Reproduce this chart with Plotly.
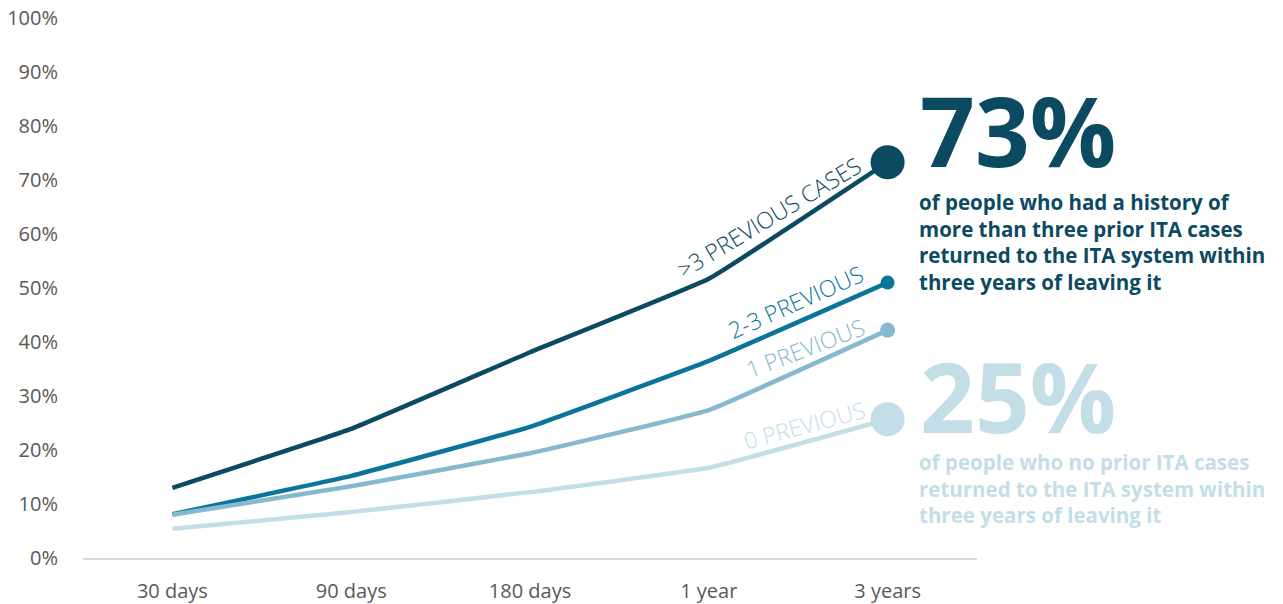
import plotly.graph_objects as go

categories = ["30 days", "90 days", "180 days", "1 year", "3 years"]
series_names = [">3 PREVIOUS CASES", "2-3 PREVIOUS", "1 PREVIOUS", "0 PREVIOUS"]
gt3_prev = [0.130, 0.239, 0.381, 0.517, 0.733]
prev_2_3 = [0.081, 0.152, 0.243, 0.365, 0.510]
prev_1 = [0.080, 0.133, 0.194, 0.274, 0.422]
prev_0 = [0.054, 0.085, 0.122, 0.167, 0.257]
y_ticks = [i / 10 for i in range(11)]
y_tick_labels = [f"{i*10}%" for i in range(11)]

colors = ["#0b4a60", "#0a7599", "#86b9cf", "#c3dee7"]
end_sizes = [34, 14, 15, 34]
all_series = [gt3_prev, prev_2_3, prev_1, prev_0]

W, H = 1283, 604
L, R, T, B = 83, 977, 18, 558

def px(x):
    return (x - L) / (R - L)

def py(y):
    return (B - y) / (B - T)

fig = go.Figure()
for name, vals, c, s in zip(series_names, all_series, colors, end_sizes):
    sizes = [0] * (len(vals) - 1) + [s]
    fig.add_trace(go.Scatter(
        x=categories, y=vals, name=name, mode="lines+markers",
        line=dict(color=c, width=4.5, shape="spline", smoothing=0.25),
        marker=dict(size=sizes, color=c, opacity=1, line=dict(width=0)),
        opacity=1, hoverinfo="skip", showlegend=False, cliponaxis=False,
    ))

label_font = "Open Sans"
rot = [
    (series_names[0], 769, 217, -31, colors[0]),
    (series_names[1], 795, 302, -24, colors[1]),
    (series_names[2], 805, 348, -21, colors[2]),
    (series_names[3], 804, 425, -15, colors[3]),
]
for txt, x, y, ang, c in rot:
    fig.add_annotation(x=px(x), y=py(y), xref="paper", yref="paper",
                       xanchor="center", yanchor="middle",
                       text=txt, showarrow=False, textangle=ang,
                       font=dict(family=label_font, size=23, color=c, weight=300))

big_font = "Open Sans"
fig.add_annotation(x=px(918), y=py(129), xref="paper", yref="paper",
                   xanchor="left", yanchor="middle", height=88,
                   text="<b>73%</b>", showarrow=False,
                   font=dict(family=big_font, size=96, color=colors[0]))
fig.add_annotation(x=px(917), y=py(186), xref="paper", yref="paper",
                   xanchor="left", yanchor="top", align="left", showarrow=False,
                   text="<b>of people who had a history of<br>more than three prior ITA cases<br>returned to the ITA system within<br>three years of leaving it</b>",
                   font=dict(family=big_font, size=20.5, color=colors[0]))
fig.add_annotation(x=px(918), y=py(395), xref="paper", yref="paper",
                   xanchor="left", yanchor="middle", height=88,
                   text="<b>25%</b>", showarrow=False,
                   font=dict(family=big_font, size=96, color=colors[3]))
fig.add_annotation(x=px(917), y=py(446), xref="paper", yref="paper",
                   xanchor="left", yanchor="top", align="left", showarrow=False,
                   text="<b>of people who no prior ITA cases<br>returned to the ITA system within<br>three years of leaving it</b>",
                   font=dict(family=big_font, size=20.5, color=colors[3]))

fig.update_layout(
    width=W, height=H,
    margin=dict(l=L, r=W - R, t=T, b=H - B, autoexpand=False),
    paper_bgcolor="white", plot_bgcolor="white",
    font=dict(family="Open Sans", color="#595959", size=20),
)
fig.update_xaxes(
    type="category", range=[-0.5, 4.5], showgrid=False, zeroline=False,
    showline=True, linecolor="#d9d9d9", linewidth=2, ticks="", automargin=False,
    ticklabelstandoff=14, tickfont=dict(size=20, color="#595959"),
)
fig.update_yaxes(
    range=[0, 1], tickvals=y_ticks, ticktext=y_tick_labels, showgrid=False,
    zeroline=False, showline=False, ticks="", ticklabelstandoff=24, automargin=False,
    tickfont=dict(size=20, color="#595959"),
)

fig.write_html("out.html")
